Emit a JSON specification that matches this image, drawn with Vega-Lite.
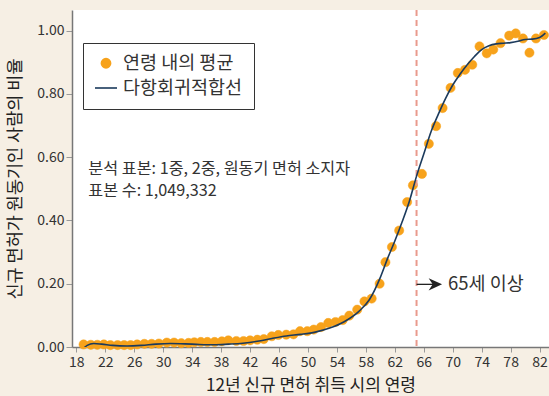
{
  "$schema": "https://vega.github.io/schema/vega-lite/v6.json",
  "width": 477,
  "height": 337,
  "autosize": {"type": "none"},
  "padding": {"left": 72, "top": 10, "right": 0, "bottom": 49},
  "background": "#f6efe4",
  "config": {
    "font": "Noto Sans CJK KR",
    "view": {"fill": "white", "stroke": null},
    "axis": {"grid": false, "labelFont": "Noto Sans CJK KR", "titleFont": "Noto Sans CJK KR", "labelColor": "#333", "titleColor": "#222", "titleFontWeight": "normal", "labelFontSize": 14, "titleFontSize": 17, "tickColor": "#999", "domainColor": "#777", "domainWidth": 1.5, "labelOverlap": false}
  },
  "datasets": {
    "avg": [
      {"age": 19.0, "share": 0.008}, {"age": 20.0, "share": 0.007}, {"age": 20.9, "share": 0.007}, {"age": 21.8, "share": 0.008},
      {"age": 22.7, "share": 0.006}, {"age": 23.7, "share": 0.006}, {"age": 24.6, "share": 0.006}, {"age": 25.5, "share": 0.006},
      {"age": 26.4, "share": 0.008}, {"age": 27.4, "share": 0.010}, {"age": 28.4, "share": 0.010}, {"age": 29.4, "share": 0.011},
      {"age": 30.5, "share": 0.014}, {"age": 31.5, "share": 0.014}, {"age": 32.5, "share": 0.012}, {"age": 33.5, "share": 0.013},
      {"age": 34.3, "share": 0.015}, {"age": 35.2, "share": 0.016}, {"age": 36.1, "share": 0.016}, {"age": 37.1, "share": 0.016},
      {"age": 38.1, "share": 0.018}, {"age": 39.0, "share": 0.021}, {"age": 40.1, "share": 0.019}, {"age": 41.1, "share": 0.019},
      {"age": 42.0, "share": 0.021}, {"age": 43.0, "share": 0.023}, {"age": 43.9, "share": 0.025}, {"age": 45.0, "share": 0.034},
      {"age": 45.9, "share": 0.038}, {"age": 47.0, "share": 0.039}, {"age": 48.0, "share": 0.040}, {"age": 48.9, "share": 0.050},
      {"age": 49.9, "share": 0.050}, {"age": 50.8, "share": 0.055}, {"age": 51.8, "share": 0.063}, {"age": 52.8, "share": 0.076},
      {"age": 53.8, "share": 0.079}, {"age": 54.8, "share": 0.085}, {"age": 55.7, "share": 0.099}, {"age": 56.8, "share": 0.118},
      {"age": 57.8, "share": 0.144}, {"age": 58.8, "share": 0.153}, {"age": 59.9, "share": 0.200}, {"age": 60.7, "share": 0.268},
      {"age": 61.6, "share": 0.316}, {"age": 62.6, "share": 0.368}, {"age": 63.7, "share": 0.458}, {"age": 64.5, "share": 0.511},
      {"age": 65.75, "share": 0.547}, {"age": 66.7, "share": 0.642}, {"age": 67.7, "share": 0.698}, {"age": 68.6, "share": 0.755},
      {"age": 69.7, "share": 0.819}, {"age": 70.7, "share": 0.866}, {"age": 71.7, "share": 0.876}, {"age": 72.7, "share": 0.892},
      {"age": 73.7, "share": 0.950}, {"age": 74.7, "share": 0.928}, {"age": 75.6, "share": 0.940}, {"age": 76.6, "share": 0.960},
      {"age": 77.8, "share": 0.984}, {"age": 78.7, "share": 0.991}, {"age": 79.7, "share": 0.975}, {"age": 80.6, "share": 0.930},
      {"age": 81.5, "share": 0.975}, {"age": 82.6, "share": 0.986}
    ],
    "fit": [
      {"age": 19.0, "share": -0.004}, {"age": 19.5, "share": 0.005}, {"age": 20.4, "share": 0.011}, {"age": 21.5, "share": 0.009},
      {"age": 23.0, "share": 0.005}, {"age": 25.0, "share": 0.003}, {"age": 27.0, "share": 0.005}, {"age": 29.0, "share": 0.009},
      {"age": 31.0, "share": 0.011}, {"age": 33.0, "share": 0.010}, {"age": 35.0, "share": 0.008}, {"age": 37.0, "share": 0.007},
      {"age": 39.0, "share": 0.009}, {"age": 41.0, "share": 0.012}, {"age": 43.0, "share": 0.018}, {"age": 45.0, "share": 0.027},
      {"age": 47.0, "share": 0.035}, {"age": 49.0, "share": 0.040}, {"age": 51.0, "share": 0.047}, {"age": 53.0, "share": 0.060},
      {"age": 55.0, "share": 0.080}, {"age": 57.0, "share": 0.112}, {"age": 58.5, "share": 0.150}, {"age": 60.0, "share": 0.220},
      {"age": 61.0, "share": 0.280}, {"age": 62.0, "share": 0.335}, {"age": 63.0, "share": 0.395}, {"age": 64.0, "share": 0.460},
      {"age": 65.0, "share": 0.540}, {"age": 66.0, "share": 0.610}, {"age": 67.0, "share": 0.680}, {"age": 68.0, "share": 0.735},
      {"age": 69.0, "share": 0.785}, {"age": 70.0, "share": 0.828}, {"age": 71.0, "share": 0.862}, {"age": 72.0, "share": 0.892},
      {"age": 73.0, "share": 0.918}, {"age": 74.0, "share": 0.940}, {"age": 75.0, "share": 0.952}, {"age": 76.0, "share": 0.958},
      {"age": 77.0, "share": 0.960}, {"age": 78.0, "share": 0.962}, {"age": 79.0, "share": 0.966}, {"age": 80.0, "share": 0.972},
      {"age": 81.0, "share": 0.973}, {"age": 82.0, "share": 0.978}, {"age": 82.8, "share": 0.992}
    ],
    "notes": [
      {"age": 19.66, "share": 0.564, "text": "분석 표본: 1중, 2중, 원동기 면허 소지자"},
      {"age": 19.66, "share": 0.492, "text": "표본 수: 1,049,332"}
    ]
  },
  "layer": [
    {
      "data": {"name": "avg"},
      "transform": [{"calculate": "'연령 내의 평균'", "as": "series"}],
      "mark": {"type": "point", "filled": true, "opacity": 1, "strokeWidth": 0.5},
      "encoding": {
        "x": {"field": "age", "type": "quantitative", "scale": {"domain": [17.4, 83.3], "nice": false, "zero": false},
          "axis": {"values": [18, 22, 26, 30, 34, 38, 42, 46, 50, 54, 58, 62, 66, 70, 74, 78, 82], "tickCount": 40, "tickSize": 5, "labelPadding": 3, "labelOverlap": false, "labelBound": false, "labelFlush": false, "title": "12년 신규 면허 취득 시의 연령", "titlePadding": 8}},
        "y": {"field": "share", "type": "quantitative", "scale": {"domain": [0, 1.065], "nice": false},
          "axis": {"values": [0, 0.2, 0.4, 0.6, 0.8, 1.0], "tickCount": 20, "format": ".2f", "tickSize": 6, "labelPadding": 2, "labelOverlap": false, "title": "신규 면허가 원동기인 사람의 비율", "titleFontSize": 17.5, "titlePadding": 12}},
        "color": {"field": "series", "type": "nominal",
          "scale": {"domain": ["연령 내의 평균", "다항회귀적합선"], "range": ["#f7a21b", "#1b3a5c"]},
          "legend": {
            "title": null, "orient": "none", "legendX": 11, "legendY": 33,
            "padding": 11, "fillColor": "white", "strokeColor": "#333",
            "labelFontSize": 18.5, "labelColor": "#333", "labelFont": "Noto Sans CJK KR",
            "rowPadding": 3, "labelOffset": 5, "symbolStrokeWidth": 1.6, "symbolOpacity": 1
          }},
        "shape": {"field": "series", "type": "nominal",
          "scale": {"domain": ["연령 내의 평균", "다항회귀적합선"], "range": ["circle", "stroke"]},
          "legend": {"title": null, "orient": "none", "legendX": 11, "legendY": 33}},
        "stroke": {"field": "series", "type": "nominal",
          "scale": {"domain": ["연령 내의 평균", "다항회귀적합선"], "range": ["#f7a21b", "#1b3a5c"]},
          "legend": {"title": null, "orient": "none", "legendX": 11, "legendY": 33}},
        "size": {"field": "series", "type": "nominal",
          "scale": {"domain": ["연령 내의 평균", "다항회귀적합선"], "range": [85, 484]},
          "legend": {"title": null, "orient": "none", "legendX": 11, "legendY": 33}}
      }
    },
    {
      "data": {"values": [{"age": 65}]},
      "mark": {"type": "rule", "color": "#e99a8d", "strokeWidth": 2, "strokeDash": [6, 4]},
      "encoding": {"x": {"field": "age", "type": "quantitative"}}
    },
    {
      "data": {"name": "fit"},
      "mark": {"type": "line", "color": "#1b3a5c", "strokeWidth": 1.6, "interpolate": "monotone", "clip": true},
      "encoding": {
        "x": {"field": "age", "type": "quantitative"},
        "y": {"field": "share", "type": "quantitative"}
      }
    },
    {
      "data": {"values": [{"a1": 65, "a2": 67.6, "share": 0.198}]},
      "mark": {"type": "rule", "color": "#222", "strokeWidth": 1.3},
      "encoding": {
        "x": {"field": "a1", "type": "quantitative"},
        "x2": {"field": "a2"},
        "y": {"field": "share", "type": "quantitative"}
      }
    },
    {
      "data": {"values": [{"age": 67.6, "share": 0.198}]},
      "mark": {"type": "point", "filled": true, "color": "#222", "opacity": 1, "shape": "M 1 0 L -1 -0.9 L -0.4 0 L -1 0.9 Z", "size": 180},
      "encoding": {
        "x": {"field": "age", "type": "quantitative"},
        "y": {"field": "share", "type": "quantitative"}
      }
    },
    {
      "data": {"values": [{"age": 69.35, "share": 0.198, "text": "65세 이상"}]},
      "mark": {"type": "text", "align": "left", "baseline": "middle", "fontSize": 18.5, "color": "#333", "font": "Noto Sans CJK KR"},
      "encoding": {
        "x": {"field": "age", "type": "quantitative"},
        "y": {"field": "share", "type": "quantitative"},
        "text": {"field": "text"}
      }
    },
    {
      "data": {"name": "notes"},
      "mark": {"type": "text", "align": "left", "baseline": "middle", "fontSize": 16.2, "color": "#333", "font": "Noto Sans CJK KR"},
      "encoding": {
        "x": {"field": "age", "type": "quantitative"},
        "y": {"field": "share", "type": "quantitative"},
        "text": {"field": "text"}
      }
    }
  ]
}
